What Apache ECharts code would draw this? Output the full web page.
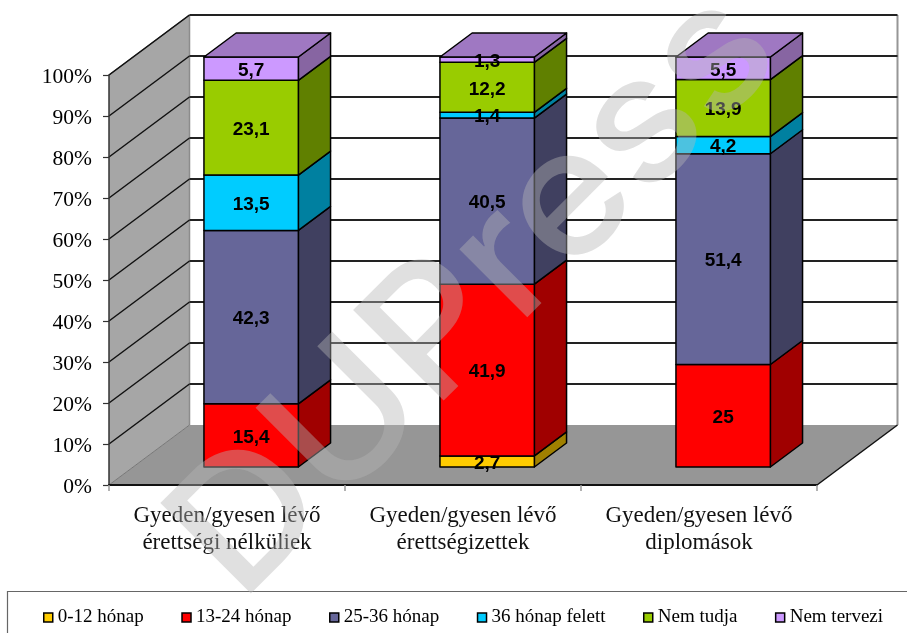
<!DOCTYPE html>
<html><head><meta charset="utf-8">
<style>html,body{margin:0;padding:0;background:#fff}#c{width:907px;height:633px}</style>
<script src="https://cdn.jsdelivr.net/npm/echarts@6/dist/echarts.min.js"></script>
</head><body><div id="c"></div>
<script>
const categories = ['Gyeden/gyesen lévő\nérettségi nélküliek','Gyeden/gyesen lévő\nérettségizettek','Gyeden/gyesen lévő\ndiplomások'];
const seriesNames = ['0-12 hónap','13-24 hónap','25-36 hónap','36 hónap felett','Nem tudja','Nem tervezi'];
const v0_12   = [0, 2.7, 0];
const v13_24  = [15.4, 41.9, 25];
const v25_36  = [42.3, 40.5, 51.4];
const v36plus = [13.5, 1.4, 4.2];
const vNemTudja = [23.1, 12.2, 13.9];
const vNemTervezi = [5.7, 1.3, 5.5];
const seriesValues = [v0_12, v13_24, v25_36, v36plus, vNemTudja, vNemTervezi];
const gridTicks = [10,20,30,40,50,60,70,80,90,100];

const frontColors = ['#FFCC00','#FF0000','#666699','#00CCFF','#99CC00','#CC99FF'];
const sideColors  = ['#A08000','#A00000','#404060','#0080A0','#608000','#8765A2'];
const topColor = '#9F78C2';
const DX = 80.5, DY = -60;      // projected depth of the floor
const GAP = 0.3, BAR = 0.4;     // share of depth / band before the bar, and the bar itself

const chart = echarts.init(document.getElementById('c'), null, {renderer:'canvas'});
const poly = (pts, fill, stroke, lw, z2) => ({type:'polygon', shape:{points:pts}, z2:z2||0,
  style:{fill:fill, stroke:stroke, lineWidth:lw==null?1.5:lw, lineJoin:'round'}});
const line = (a,b,stroke,lw) => ({type:'line', shape:{x1:a[0],y1:a[1],x2:b[0],y2:b[1]}, style:{stroke:stroke,lineWidth:lw,fill:null}});

function renderWalls(params, api){
  const o = api.coord([0,0]);
  const band = api.size([1,0])[0];
  const x0 = o[0]-band/2, y0 = o[1];
  const x1 = x0+band*3;
  const yTop = api.coord([0,100])[1];
  return {type:'group', children:[
    poly([[x0+DX,yTop+DY],[x1+DX,yTop+DY],[x1+DX,y0+DY],[x0+DX,y0+DY]],'#ffffff',null,0),
    poly([[x0,y0],[x0,yTop],[x0+DX,yTop+DY],[x0+DX,y0+DY]],'#A6A6A6',null,0),
    poly([[x0,y0],[x1,y0],[x1+DX,y0+DY],[x0+DX,y0+DY]],'#969696',null,0),
    line([x0+DX,yTop+DY],[x0+DX,y0+DY],'#8c8c8c',1.5),
    line([x1+DX,yTop+DY],[x1+DX,y0+DY],'#969696',2),
    line([x0,yTop],[x0+DX,yTop+DY],'#555',1.2),
    line([x0,y0],[x0+DX,y0+DY],'#777',1),
    line([x1,y0],[x1+DX,y0+DY],'#111',1.5)
  ]};
}
function renderGrid(params, api){
  const o = api.coord([0,api.value(0)]);
  const band = api.size([1,0])[0];
  const x0 = o[0]-band/2, x1 = x0+band*3, y=o[1];
  return {type:'group', children:[
    line([x0,y],[x0+DX,y+DY],'#111',1.5),
    line([x0+DX,y+DY],[x1+DX,y+DY],'#222',1.8)
  ]};
}
function renderSegment(si){
  return function(params, api){
    const value = api.value(3);
    if(!value) return null;
    const band = api.size([1,0])[0];
    const c = api.coord([api.value(0), api.value(1)]);
    const t = api.coord([api.value(0), api.value(2)]);
    const w = band*BAR, ox = DX*GAP, oy = DY*GAP, dx = DX*BAR, dy = DY*BAR;
    const l = c[0]-w/2+ox, r = c[0]+w/2+ox, b = c[1]+oy, u = t[1]+oy;
    const kids = [
      poly([[r,b],[r+dx,b+dy],[r+dx,u+dy],[r,u]], sideColors[si], '#000'),
      poly([[l,b],[r,b],[r,u],[l,u]], frontColors[si], '#000')
    ];
    if(si === seriesValues.length-1){
      kids.push(poly([[l,u],[r,u],[r+dx,u+dy],[l+dx,u+dy]], topColor, '#000'));
    }
    kids.push({type:'text', z2:5, style:{
      x:(l+r)/2, y:(b+u)/2+2, text:String(value).replace('.',','),
      align:'center', verticalAlign:'middle',
      font:'bold 19px "Liberation Sans"', fill:'#000'}});
    return {type:'group', children:kids};
  };
}
const series = [
  {type:'custom', name:'_walls', z:0, silent:true, clip:false, renderItem:renderWalls, data:[[0,0]], encode:{x:0,y:1}},
  {type:'custom', name:'_grid', z:0, silent:true, clip:false, renderItem:renderGrid, data:gridTicks.map(t=>[t]), encode:{y:0}}
];
seriesNames.forEach((name,si)=>{
  series.push({
    type:'custom', name:name, z:2, clip:false,
    itemStyle:{color:frontColors[si], borderColor:'#000', borderWidth:1.5},
    renderItem:renderSegment(si),
    encode:{x:0,y:2},
    data:categories.map((_,ci)=>{
      let start=0; for(let k=0;k<si;k++) start+=seriesValues[k][ci];
      return [ci,start,start+seriesValues[si][ci],seriesValues[si][ci]];
    })
  });
});
chart.setOption({
  animation:false,
  backgroundColor:'#fff',
  grid:{left:109,right:90,top:75,bottom:148,containLabel:false},
  xAxis:{type:'category',data:categories,z:1,
    axisLine:{show:true,lineStyle:{color:'#111',width:2}},
    axisTick:{show:true,length:6,lineStyle:{color:'#999',width:1.5}},
    axisLabel:{interval:0,margin:17,lineHeight:27,fontFamily:'Liberation Serif',fontSize:23,color:'#111'}},
  yAxis:{type:'value',min:0,max:100,interval:10,z:1,
    axisLine:{show:true,lineStyle:{color:'#333',width:1.5}},
    axisTick:{show:true,length:6,lineStyle:{color:'#333',width:1.2}},
    splitLine:{show:false},
    axisLabel:{formatter:'{value}%',margin:17,verticalAlign:'top',lineHeight:4,fontFamily:'Liberation Serif',fontSize:21.5,color:'#000'}},
  legend:{data:seriesNames,left:38,top:603,itemWidth:9,itemHeight:9,itemGap:37.5,icon:'rect',
    selectedMode:false,
    itemStyle:{borderColor:'#000',borderWidth:1.5},
    textStyle:{fontFamily:'Liberation Serif',fontSize:19,color:'#000',padding:[0,0,0,0]}},
  graphic:[
    {type:'rect',z:0,silent:true,shape:{x:7.5,y:591.5,width:905,height:60},style:{fill:'#fff',stroke:'#666',lineWidth:1.2}},
    {type:'text',z:1000,silent:true,x:265,y:629,rotation:Math.PI/4,scaleX:1.06,
      style:{text:'DUPress',font:'500 176px "Inter"',fill:'rgba(180,180,180,0.42)',align:'left',verticalAlign:'bottom'}}
  ],
  series:series
});
</script></body></html>
